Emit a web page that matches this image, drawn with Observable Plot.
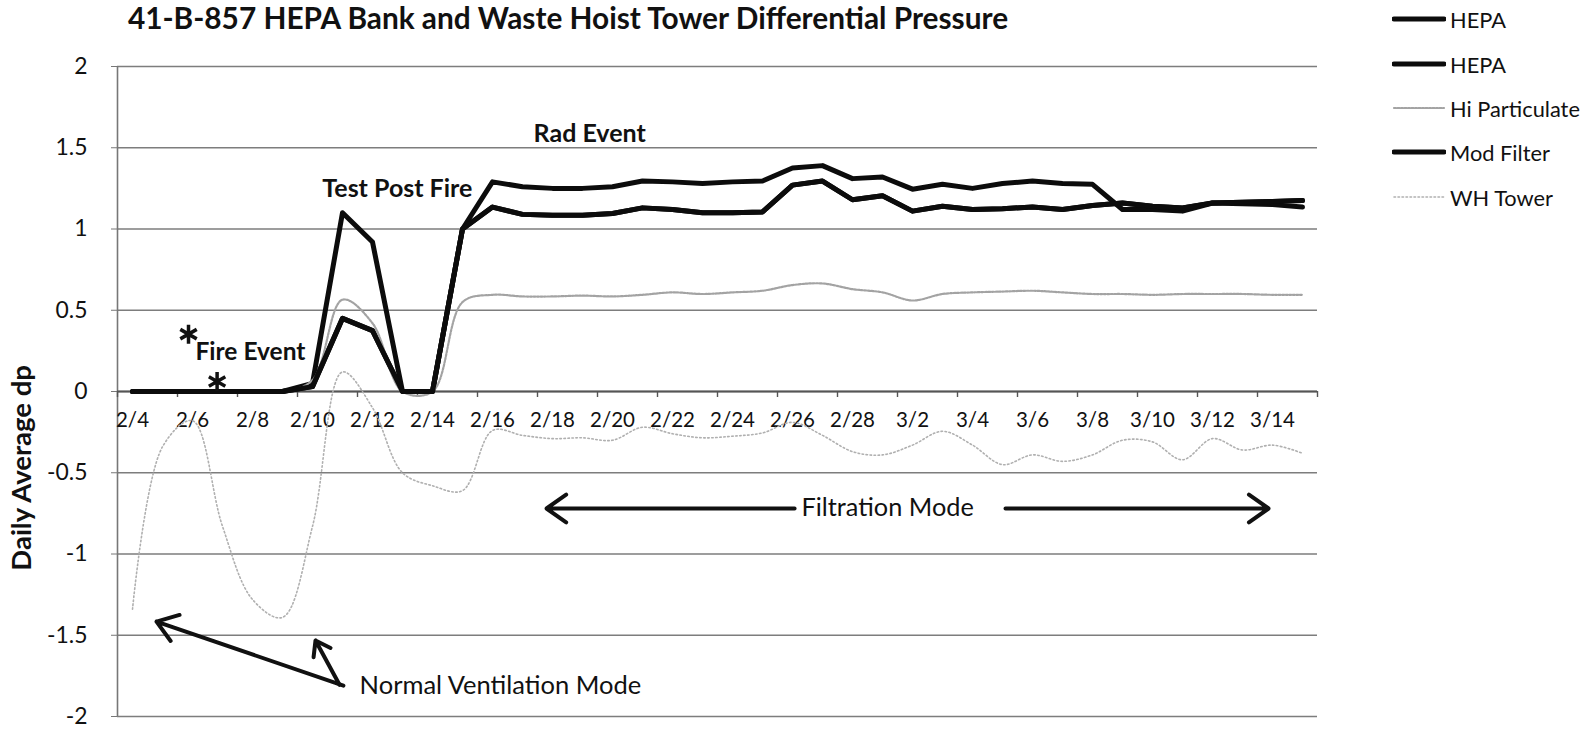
<!DOCTYPE html>
<html><head><meta charset="utf-8">
<script src="https://cdn.jsdelivr.net/npm/d3@7"></script>
<script src="https://cdn.jsdelivr.net/npm/@observablehq/plot@0.6"></script>
<style>
body{margin:0;background:#fff;color:#111;font-family:Lato,sans-serif}
#wrap{position:relative;width:1583px;height:730px;overflow:hidden;background:#fff}
#title{height:36px;position:relative}
#title span{position:absolute;top:0;white-space:nowrap;font-weight:bold;line-height:36px;transform:translateX(-50%)}
#legend{position:absolute;left:0;top:0}
.li{position:absolute;display:flex;align-items:center;white-space:nowrap}
.li svg{display:block;margin-right:4px}
</style></head><body>
<div id="wrap"><div id="title"></div><div id="chart"></div><div id="legend"></div></div>
<script>
// ---- data ----
const dates = ["2/4","2/5","2/6","2/7","2/8","2/9","2/10","2/11","2/12","2/13","2/14","2/15","2/16","2/17","2/18","2/19","2/20","2/21","2/22","2/23","2/24","2/25","2/26","2/27","2/28","3/1","3/2","3/3","3/4","3/5","3/6","3/7","3/8","3/9","3/10","3/11","3/12","3/13","3/14","3/15"];
const hepaA = [0,0,0,0,0,0,0.05,1.10,0.92,0,0,1.0,1.29,1.26,1.25,1.25,1.26,1.295,1.29,1.28,1.29,1.295,1.375,1.39,1.31,1.32,1.245,1.275,1.25,1.28,1.295,1.28,1.275,1.12,1.12,1.11,1.16,1.155,1.15,1.135];
const hepaB = [0,0,0,0,0,0,0.03,0.45,0.375,0,0,1.0,1.135,1.09,1.085,1.085,1.095,1.13,1.12,1.10,1.10,1.105,1.27,1.295,1.18,1.205,1.11,1.14,1.12,1.125,1.135,1.12,1.145,1.16,1.14,1.13,1.16,1.165,1.17,1.175];
const hiParticulate = [0,0,0,0,0,0,0.07,0.565,0.42,0,0,0.55,0.595,0.585,0.585,0.59,0.585,0.595,0.61,0.6,0.61,0.62,0.655,0.665,0.63,0.61,0.56,0.6,0.61,0.615,0.62,0.61,0.6,0.6,0.595,0.6,0.6,0.6,0.595,0.595];
const modFilter = [0,0,0,0,0,0,0.03,0.45,0.375,0,0,1.0,1.135,1.09,1.085,1.085,1.095,1.13,1.12,1.10,1.10,1.105,1.27,1.295,1.18,1.205,1.11,1.14,1.12,1.125,1.135,1.12,1.145,1.16,1.14,1.13,1.16,1.165,1.17,1.175];
const whTower = [-1.34,-0.34,-0.18,-0.83,-1.28,-1.39,-0.83,0.12,-0.1,-0.5,-0.58,-0.61,-0.24,-0.27,-0.29,-0.285,-0.3,-0.22,-0.26,-0.285,-0.275,-0.255,-0.19,-0.27,-0.37,-0.39,-0.33,-0.245,-0.33,-0.45,-0.39,-0.43,-0.39,-0.30,-0.31,-0.42,-0.29,-0.36,-0.33,-0.38];
const yTicks = [-2,-1.5,-1,-0.5,0,0.5,1,1.5,2];
const yTickLabels = ["-2","-1.5","-1","-0.5","0","0.5","1","1.5","2"];
const seriesNames = ["HEPA","HEPA","Hi Particulate","Mod Filter","WH Tower"];
const titleText = "41-B-857 HEPA Bank and Waste Hoist Tower Differential Pressure";
const yLabelText = "Daily Average dp";

// ---- helpers ----
const ctx = document.createElement("canvas").getContext("2d");
function fit(text, weight, target){ ctx.font = `${weight} 100px Lato`; return +(100*target/ctx.measureText(text).width).toFixed(1); }

const rows = dates.map((d,i)=>({i, date:d, hepaA:hepaA[i], hepaB:hepaB[i], hi:hiParticulate[i], mod:modFilter[i], wh:whTower[i]}));
const labelRows = rows.filter(r => r.i % 2 === 0);
const tickPos = d3.range(0, dates.length + 1, 2).map(k => k - 0.5);

const black = {stroke:"#0c0c0c", strokeWidth:5, strokeLinejoin:"round", strokeLinecap:"round"};
const hiStyle = {stroke:"#a3a3a3", strokeWidth:2.2, strokeDasharray:"2,1.5", curve:"catmull-rom"};
const whStyle = {stroke:"#b0b0b0", strokeWidth:1.6, strokeDasharray:"1.5,2.5", curve:"catmull-rom"};

// title
const tspan = document.createElement("span");
tspan.textContent = titleText;
tspan.style.fontSize = fit(titleText, "bold", 884) + "px";
tspan.style.left = "568px";
document.getElementById("title").appendChild(tspan);

const fsX = fit("2/10", "normal", 45);
const fsY = fit("1.5", "normal", 32);

const chart = Plot.plot({
  width: 1583, height: 694,
  marginLeft: 117, marginRight: 266, marginTop: 30, marginBottom: 14,
  style: {fontFamily: "Lato, sans-serif", color: "#111", background: "#fff", overflow: "visible"},
  x: {type: "linear", domain: [-0.5, dates.length - 0.5], axis: null},
  y: {domain: [-2, 2], axis: null},
  marks: [
    Plot.ruleY(yTicks, {stroke: "#7d7d7d", strokeWidth: 1.4}),
    Plot.ruleX([-0.5], {stroke: "#777", strokeWidth: 1.6}),
    Plot.axisY(yTicks, {tickSize: 6, tickPadding: 24, fontSize: fsY, label: null, stroke: "#777",
      tickFormat: d => yTickLabels[yTicks.indexOf(d)]}),
    Plot.ruleY([0], {stroke: "#555", strokeWidth: 1.8}),
    Plot.ruleX(tickPos, {x: d => d, y1: 0, y2: -0.037, stroke: "#555", strokeWidth: 1.4}),
    Plot.text(labelRows, {x: "i", y: 0, text: "date", dy: 29, fontSize: fsX, fill: "#111"}),
    Plot.line(rows, {x: "i", y: "hepaA", ...black}),
    Plot.line(rows, {x: "i", y: "hepaB", ...black}),
    Plot.line(rows, {x: "i", y: "hi", ...hiStyle}),
    Plot.line(rows, {x: "i", y: "mod", ...black}),
    Plot.line(rows, {x: "i", y: "wh", ...whStyle}),
    // annotations
    Plot.text([yLabelText], {text: d => d, y: -0.47, frameAnchor: "left", dx: -95, rotate: -90, textAnchor: "middle",
      fontWeight: "bold", fontSize: fit(yLabelText, "bold", 207), fill: "#111"}),
    Plot.text(["Rad Event"], {text: d => d, x: 13.37, y: 1.587, textAnchor: "start", fontWeight: "bold", fontSize: fit("Rad Event","bold",112), fill:"#111"}),
    Plot.text(["Test Post Fire"], {text: d => d, x: 11.33, y: 1.246, textAnchor: "end", fontWeight: "bold", fontSize: fit("Test Post Fire","bold",150), fill:"#111"}),
    Plot.text(["Fire Event"], {text: d => d, x: 2.1, y: 0.243, textAnchor: "start", fontWeight: "bold", fontSize: fit("Fire Event","bold",110), fill:"#111"}),
    Plot.dot([{x: 1.867, y: 0.353}, {x: 2.82, y: 0.061}], {x: "x", y: "y", symbol: "asterisk", r: 9, stroke: "#111", strokeWidth: 3.5}),
    Plot.text(["Filtration Mode"], {text: d => d, x: 22.3, y: -0.717, textAnchor: "start", fontSize: fit("Filtration Mode","normal",172), fill:"#111"}),
    Plot.text(["Normal Ventilation Mode"], {text: d => d, x: 7.57, y: -1.81, textAnchor: "start", fontSize: fit("Normal Ventilation Mode","normal",283), fill:"#111"}),
    Plot.arrow([
      {x1: 22.07, y1: -0.72, x2: 13.8, y2: -0.72},
      {x1: 29.1, y1: -0.72, x2: 37.87, y2: -0.72},
      {x1: 7.03, y1: -1.81, x2: 0.8, y2: -1.416},
      {x1: 6.9, y1: -1.805, x2: 6.1, y2: -1.532}
    ], {x1: "x1", y1: "y1", x2: "x2", y2: "y2", stroke: "#111", strokeWidth: 4, headLength: 9, headAngle: 70})
  ]
});
document.getElementById("chart").appendChild(chart);

// legend
const legendStyles = [
  {stroke:"#0c0c0c", w:5, dash:""},
  {stroke:"#0c0c0c", w:5, dash:""},
  {stroke:"#a3a3a3", w:2.2, dash:"2,1.5"},
  {stroke:"#0c0c0c", w:5, dash:""},
  {stroke:"#b0b0b0", w:1.6, dash:"1.5,2.5"}
];
const legendY = [19, 64, 108, 152, 197];
const fsL = fit("Hi Particulate", "normal", 130);
const leg = document.getElementById("legend");
seriesNames.forEach((name, k) => {
  const s = legendStyles[k];
  const div = document.createElement("div");
  div.className = "li";
  div.style.left = "1392px";
  div.style.top = (legendY[k] - 16) + "px";
  div.style.height = "32px";
  div.style.fontSize = fsL + "px";
  div.innerHTML = `<svg width="54" height="10"><line x1="2" y1="5" x2="52" y2="5" stroke="${s.stroke}" stroke-width="${s.w}" stroke-dasharray="${s.dash}" stroke-linecap="round"/></svg><span>${name}</span>`;
  leg.appendChild(div);
});
</script>
</body></html>
